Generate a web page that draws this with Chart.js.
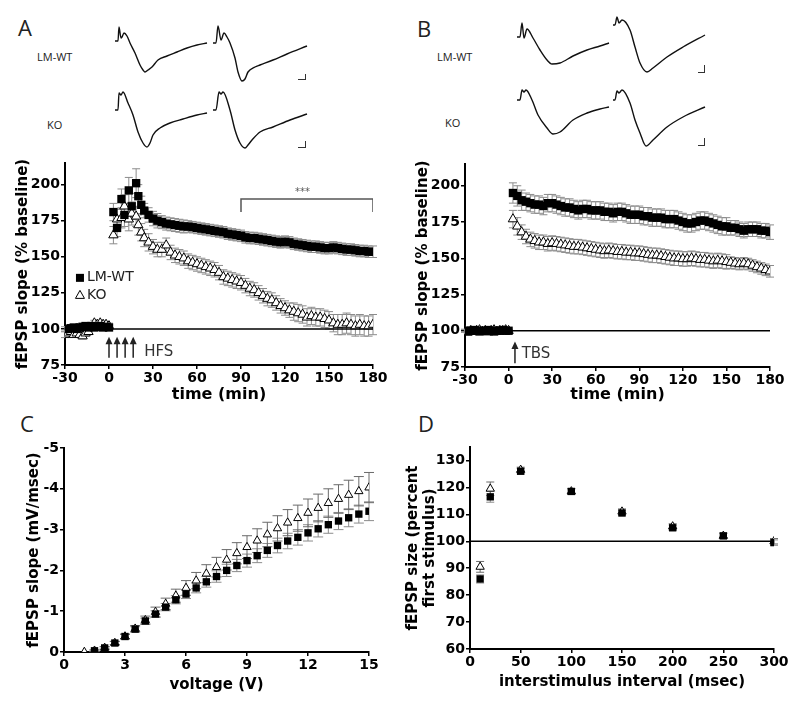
<!DOCTYPE html>
<html><head><meta charset="utf-8">
<script src="https://cdn.jsdelivr.net/npm/chart.js@4.4.1/dist/chart.umd.min.js"></script>
<style>
html,body{margin:0;padding:0;background:#fff}
#page{position:relative;width:800px;height:703px;overflow:hidden;background:#fff}
canvas{position:absolute}
.lbl{position:absolute;font-family:'Open Sans','DejaVu Sans',sans-serif;color:#222;white-space:nowrap;line-height:1}
.sb{position:absolute;border-right:1px solid #333;border-bottom:1px solid #333;box-sizing:border-box}
</style></head><body><div id="page">
<div class="lbl" style="left:18px;top:16px;font-size:22px">A</div>
<div class="lbl" style="left:417px;top:17px;font-size:22px">B</div>
<div class="lbl" style="left:20px;top:412px;font-size:22px">C</div>
<div class="lbl" style="left:418px;top:412px;font-size:22px">D</div>
<div class="lbl" style="left:37px;top:51px;font-size:11px">LM-WT</div>
<div class="lbl" style="left:47px;top:119px;font-size:11px">KO</div>
<div class="lbl" style="left:437px;top:51px;font-size:11px">LM-WT</div>
<div class="lbl" style="left:445px;top:117px;font-size:11px">KO</div>
<div class="sb" style="left:298px;top:74px;width:8px;height:6px"></div>
<div class="sb" style="left:298px;top:141px;width:8px;height:7px"></div>
<div class="sb" style="left:698px;top:65px;width:7px;height:8px"></div>
<div class="sb" style="left:698px;top:138px;width:7px;height:8px"></div>
</div>
<script>
// ---------------- DATA ----------------
// Panel A (HFS) : time (min)
const timeA = [-30,-28,-26,-24,-22,-20,-18,-16,-14,-12,-10,-8,-6,-4,-2,0,
  3,5.5,8.5,10.5,13.5,15.5,18.5,20,22,
  24,27,30,33,36,39,42,45,48,51,54,57,60,63,66,69,72,75,78,81,84,87,90,93,96,99,102,105,108,111,114,117,120,123,126,129,132,135,138,141,144,147,150,153,156,159,162,165,168,171,174,177,180];
const wtA = [100,100,100.5,101,100,101,101.5,102,101,102,101,101.5,102,101,101.5,101,
  181,170,190,179,196,185,201,192,186,
  182,179,176.5,175,174,173,172.5,172,171.5,171,171,170.5,170,169.5,169,168.5,168,167.5,167,166,165.5,165,164.5,163.5,163,163,162.5,162,161.5,161,160.5,160,160.5,160,159,158.5,158,157.5,157,157,156.5,156,156,156.5,156,155.5,155,155,154.5,154,154,153.5,153.5];
const wtA_sem = [1.5,1.5,1.5,1.5,1.5,1.5,1.5,1.5,1.5,1.5,1.5,1.5,1.5,1.5,1.5,1.5,
  6,6,7,8,9,9,10,8,6,
  5,5,5,5,4.5,4.5,4.5,4.5,4.5,4.5,4,4,4,4,4,4,4,4,4,4,4,4,4,4,4,4,4,4,4,4,4,4,4,4,4,4,4,4,4,4,4,4,4,4,4,4,4,4,4,4,4,4,4];
const koA = [96,97,98,96,97,96,95,97,98,101,104,103,104,103,103,102,
  165,176,177,185,176,180,178,172,167,
  163,160,157,155,155,158,153,151,150,149,147,146,145,144,143,142,141,139,136,135,134,133,132,130,128,127,125,123,121,120,118,116,114.5,113,112,111,110,108,109,108,108,107,106,104,103,103,104,103,102,103,102,102,103];
const koA_sem = [2,2,2,2,2,2,2,2,2,2,2,2,2,2,2,2,
  6,7,7,8,8,8,7,7,6,
  6,6,5,5,5,5,5,5,5,5,5,5,5,5,5,5,5,5,5,5,5,5,5,5,5,5,5,5,5,5,5,5,5,5,6,6,6,6,6,6,6,6,6,6,7,7,7,7,7,7,7,7,7];
const hfsTimes = [0,5.5,11,16.5];

// Panel B (TBS)
const timeB = [-30,-28,-26,-24,-22,-20,-18,-16,-14,-12,-10,-8,-6,-4,-2,0,
  3,6,9,12,15,18,21,24,27,30,33,36,39,42,45,48,51,54,57,60,63,66,69,72,75,78,81,84,87,90,93,96,99,102,105,108,111,114,117,120,123,126,129,132,135,138,141,144,147,150,153,156,159,162,165,168,171,174,177,180];
const wtB = [100,99.5,100,100.5,100,99.5,100,100,100.5,100,99.5,100,100,100.5,100,100,
  195,193,190,189,188,187,187,186,188,188,
  187,186,185,185,184,183,184,184,183,183,
  183,182,182,181,182,182,181,180,180,180,
  179,179,178,178,178,177,177,177,176,175,
  174,174,175,176,176,175,174,173,172,172,
  171,171,170,169,170,170,170,169,169,168];
const wtB_sem = [1,1,1,1,1,1,1,1,1,1,1,1,1,1,1,1,
  7,7,7,6,6,6,6,6,6,6, 6,6,6,6,6,6,6,6,6,6, 6,6,6,6,6,6,6,6,6,6,
  6,6,6,6,6,6,6,6,6,6, 6,6,6,6,6,6,6,6,6,6, 5,5,5,5,5,5,5,5,5,5];
const koB = [100,99,100,99.5,100,100.5,99.5,100,99,100,100.5,99.5,100,100,100.5,100,
  177,172,168,165,163,162,161,161,160,160.5,
  160,159.5,159,158.5,158,158,157.5,157,156.5,156,
  155.5,155,155.5,155,154.5,154.5,154,154,153.5,153.5,
  153,152.5,152,152,151.5,151,150.5,150,150,149.5,
  149.5,150,149.5,149,149,148.5,148,148.5,148,147.5,
  147,146.5,146,146.5,146,145,144,143,142,141];
const koB_sem = [1,1,1,1,1,1,1,1,1,1,1,1,1,1,1,1,
  6,6,5,5,5,5,5,5,5,5, 5,5,5,5,5,5,5,5,5,5, 5,5,5,5,5,5,5,5,5,5,
  5,5,5,5,5,5,5,5,5,5, 5,5,5,5,5,5,5,5,5,5, 4,4,4,4,4,4,4,4,4,4];
const tbsTimes = [4.4];

// Panel C (input-output)
const voltWT = [1.5,2,2.5,3,3.5,4,4.5,5,5.5,6,6.5,7,7.5,8,8.5,9,9.5,10,10.5,11,11.5,12,12.5,13,13.5,14,14.5,15];
const slopeWT = [-0.03,-0.1,-0.22,-0.38,-0.56,-0.76,-0.93,-1.1,-1.28,-1.42,-1.57,-1.72,-1.85,-2.0,-2.12,-2.24,-2.36,-2.49,-2.61,-2.72,-2.81,-2.92,-3.02,-3.12,-3.21,-3.29,-3.38,-3.45];
const slopeWT_sem = [0.02,0.03,0.04,0.05,0.06,0.07,0.08,0.09,0.1,0.11,0.12,0.13,0.14,0.15,0.15,0.16,0.17,0.17,0.18,0.19,0.19,0.2,0.2,0.21,0.21,0.22,0.22,0.23];
const voltKO = [1,1.5,2,2.5,3,3.5,4,4.5,5,5.5,6,6.5,7,7.5,8,8.5,9,9.5,10,10.5,11,11.5,12,12.5,13,13.5,14,14.5,15];
const slopeKO = [0,-0.03,-0.1,-0.22,-0.38,-0.57,-0.78,-0.98,-1.18,-1.38,-1.57,-1.75,-1.92,-2.08,-2.26,-2.42,-2.57,-2.73,-2.88,-3.03,-3.17,-3.28,-3.41,-3.53,-3.65,-3.75,-3.85,-3.94,-4.03];
const slopeKO_sem = [0,0.02,0.03,0.04,0.06,0.08,0.1,0.12,0.14,0.16,0.18,0.2,0.22,0.24,0.25,0.26,0.28,0.29,0.3,0.31,0.32,0.32,0.34,0.34,0.35,0.35,0.36,0.36,0.37];

// Panel D (paired-pulse)
const isi = [10,20,50,100,150,200,250,300];
const ppfWT = [86,116.5,126,118.5,110.5,105,102,99.5];
const ppfWT_sem = [1.5,2,1,1,1,1,1,1];
const ppfKO = [90.5,119.5,126.5,118.5,111,105.5,102,100];
const ppfKO_sem = [2,2.5,1,1,1,1,1,1];

// Reference lines / bracket (data units)
const baseline100A = [[-30,100],[180,100]];
const baseline100D = [[0,100],[300,100]];
const sigBracket = [[90,181],[90,190],[180,190],[180,181]];

// Example traces: [sample, amplitude (a.u.)]
const trA_WT_pre  = [[0,0],[3,0],[4,14],[6,3],[7,4],[9,8],[12,5],[15,-2],[20,-12],[25,-24],[28,-29],[30,-31],[33,-29],[37,-26],[43,-19],[52,-15],[62,-11],[72,-7],[82,-4],[92,-2]];
const trA_WT_post = [[0,0],[3,0],[5,17],[8,3],[11,10],[14,6],[17,0],[22,-15],[25,-29],[29,-38],[32,-36],[35,-29],[42,-24],[47,-22],[60,-17],[74,-11],[94,-3]];
const trA_KO_pre  = [[0,0],[3,0],[4,17],[6,15],[8,18],[13,7],[18,-5],[23,-22],[28,-33],[32,-37],[35,-33],[38,-25],[45,-18],[55,-13],[68,-9],[82,-5],[92,-3]];
const trA_KO_post = [[0,0],[3,0],[6,18],[8,16],[10,18],[17,0],[22,-20],[27,-33],[32,-38],[35,-35],[39,-30],[47,-22],[60,-17],[77,-10],[94,-4]];
const trB_WT_pre  = [[0,0],[3,0],[5,14],[7,-1],[10,8],[16,-1],[23,-13],[30,-23],[35,-27],[43,-26],[56,-19],[70,-13],[83,-9],[92,-6]];
const trB_WT_post = [[0,0],[2,0],[4,8],[6,2],[9,5],[17,-5],[22,-22],[27,-38],[34,-47],[40,-43],[54,-32],[70,-22],[92,-10]];
const trB_KO_pre  = [[0,0],[3,0],[5,10],[7,8],[9,10],[15,0],[21,-15],[30,-28],[36,-34],[43,-32],[56,-20],[70,-13],[83,-9],[92,-7]];
const trB_KO_post = [[0,0],[2,0],[4,9],[6,7],[9,10],[17,-3],[22,-20],[27,-33],[33,-46],[40,-40],[54,-27],[70,-17],[92,-7]];

// ---------------- HELPERS ----------------
const page = document.getElementById('page');
function addCanvas(left, top, w, h){
  const c = document.createElement('canvas');
  c.width = w; c.height = h;
  c.style.left = left+'px'; c.style.top = top+'px';
  c.style.width = w+'px'; c.style.height = h+'px';
  page.appendChild(c);
  return c;
}
const FAM = "'DejaVu Sans', Verdana, sans-serif";
const zip = (xs, ys) => xs.map((x,i)=>({x, y: ys[i]}));
const pairs = p => p.map(([x,y])=>({x,y}));

const errorBars = {
  id:'errorBars',
  beforeDatasetsDraw(chart){
    const ctx = chart.ctx, xs = chart.scales.x, ys = chart.scales.y;
    chart.data.datasets.forEach(ds=>{
      if(!ds.errors) return;
      ctx.save();
      ctx.strokeStyle = ds.errorColor || '#888';
      ctx.lineWidth = 1;
      const cw = ds.capHalf || 4;
      ds.data.forEach((p,j)=>{
        const e = ds.errors[j]; if(!e) return;
        const px = xs.getPixelForValue(p.x);
        const y1 = ys.getPixelForValue(p.y - e), y2 = ys.getPixelForValue(p.y + e);
        ctx.beginPath();
        ctx.moveTo(px, y1); ctx.lineTo(px, y2);
        ctx.moveTo(px-cw, y1); ctx.lineTo(px+cw, y1);
        ctx.moveTo(px-cw, y2); ctx.lineTo(px+cw, y2);
        ctx.stroke();
      });
      ctx.restore();
    });
  }
};
Chart.register(errorBars);

function xScale(min,max,step,title,height,padBottom,titleSize){
  return {type:'linear', position:'bottom', min, max,
    ticks:{stepSize:step, color:'#000', font:{family:FAM, weight:'bold', size:14}, padding:1, includeBounds:false, maxRotation:0, autoSkip:false},
    grid:{display:true, drawOnChartArea:false, drawTicks:true, tickLength:4, color:'#000', lineWidth:1.5},
    border:{display:true, color:'#000', width:2},
    title:{display:true, text:title, color:'#000', font:{family:FAM, weight:'bold', size:titleSize||15, lineHeight:1.2}, padding:{top:0,bottom:padBottom}},
    afterFit(s){ s.height = height; }
  };
}
function yScale(min,max,step,title,width,padTop,reverse){
  return {type:'linear', position:'left', min, max, reverse: !!reverse,
    ticks:{stepSize:step, color:'#000', font:{family:FAM, weight:'bold', size:14}, padding:1, includeBounds:false, autoSkip:false},
    grid:{display:true, drawOnChartArea:false, drawTicks:true, tickLength:4, color:'#000', lineWidth:1.5},
    border:{display:true, color:'#000', width:2},
    title:{display:true, text:title, color:'#000', font:{family:FAM, weight:'bold', size:15, lineHeight:1.15}, padding:{top:padTop,bottom:0}},
    afterFit(s){ s.width = width; }
  };
}
function baseOpts(scales, padding){
  return {responsive:false, animation:false, devicePixelRatio:1, events:[],
    layout:{padding},
    plugins:{legend:{display:false}, tooltip:{enabled:false}},
    scales};
}
function wtSet(data, errs, r, capHalf, errColor){
  return {label:'LM-WT', data, errors:errs, pointStyle:'rect', pointRadius:r, backgroundColor:'#000', borderColor:'#000', borderWidth:0, showLine:false, order:1, errorColor:errColor||'#8c8c8c', capHalf};
}
function koSet(data, errs, r, capHalf, errColor){
  return {label:'KO', data, errors:errs, pointStyle:'triangle', pointRadius:r, backgroundColor:'#fff', borderColor:'#000', borderWidth:1, showLine:false, order:2, errorColor:errColor||'#8c8c8c', capHalf};
}
function lineSet(data, color, w){
  return {data, showLine:true, borderColor:color, borderWidth:w, pointRadius:0, order:5, fill:false};
}
function drawArrow(ctx, x, yBottom, yTip){
  ctx.save();
  ctx.strokeStyle = '#222'; ctx.fillStyle = '#222'; ctx.lineWidth = 1.5;
  ctx.beginPath(); ctx.moveTo(x, yBottom); ctx.lineTo(x, yTip+5); ctx.stroke();
  ctx.beginPath(); ctx.moveTo(x, yTip); ctx.lineTo(x-3.5, yTip+7.5); ctx.lineTo(x+3.5, yTip+7.5); ctx.closePath(); ctx.fill();
  ctx.restore();
}

// ---------------- PANEL A ----------------
new Chart(addCanvas(0,150,400,260), {
  type:'scatter',
  data:{datasets:[
    wtSet(zip(timeA,wtA), wtA_sem, 5.9, 4),
    koSet(zip(timeA,koA), koA_sem, 5.4, 4),
    lineSet(pairs(baseline100A), '#000', 1.5),
    lineSet(pairs(sigBracket), '#555', 1.5)
  ]},
  options: baseOpts({
    x: xScale(-30,180,30,'time (min)',45,6,16),
    y: yScale(75,215,25,'fEPSP slope (% baseline)',65,14)
  }, {top:13, right:27, left:0, bottom:0}),
  plugins:[{id:'annA', afterDatasetsDraw(chart){
    const ctx = chart.ctx, xs = chart.scales.x, ys = chart.scales.y;
    hfsTimes.forEach(t => drawArrow(ctx, xs.getPixelForValue(t), ys.getPixelForValue(80), ys.getPixelForValue(94.5)));
    ctx.save();
    ctx.fillStyle = '#333'; ctx.font = "15px "+FAM; ctx.textBaseline = 'middle'; ctx.textAlign = 'left';
    ctx.fillText('HFS', xs.getPixelForValue(24), ys.getPixelForValue(84));
    ctx.fillStyle = '#555'; ctx.font = "10px "+FAM; ctx.textAlign = 'center';
    ctx.fillText('***', xs.getPixelForValue(132), ys.getPixelForValue(194.5));
    // legend
    const lx = xs.getPixelForValue(-19.8), ly1 = ys.getPixelForValue(135.4), ly2 = ys.getPixelForValue(123.6);
    ctx.fillStyle = '#000'; ctx.fillRect(lx-4, ly1-4, 8, 8);
    ctx.strokeStyle = '#000'; ctx.lineWidth = 1;
    ctx.beginPath(); ctx.moveTo(lx, ly2-4.5); ctx.lineTo(lx+4.5, ly2+3.5); ctx.lineTo(lx-4.5, ly2+3.5); ctx.closePath(); ctx.stroke();
    ctx.fillStyle = '#222'; ctx.font = "14px "+FAM; ctx.textAlign = 'left';
    ctx.fillText('LM-WT', lx+7, ly1);
    ctx.fillText('KO', lx+7, ly2);
    ctx.restore();
  }}]
});

// ---------------- PANEL B ----------------
new Chart(addCanvas(400,150,400,260), {
  type:'scatter',
  data:{datasets:[
    wtSet(zip(timeB,wtB), wtB_sem, 5.9, 4),
    koSet(zip(timeB,koB), koB_sem, 5.4, 4),
    lineSet(pairs(baseline100A), '#000', 1.5)
  ]},
  options: baseOpts({
    x: xScale(-30,180,30,'time (min)',43,6,16),
    y: yScale(75,215,25,'fEPSP slope (% baseline)',65,14)
  }, {top:14, right:30, left:0, bottom:0}),
  plugins:[{id:'annB', afterDatasetsDraw(chart){
    const ctx = chart.ctx, xs = chart.scales.x, ys = chart.scales.y;
    tbsTimes.forEach(t => drawArrow(ctx, xs.getPixelForValue(t), ys.getPixelForValue(77.6), ys.getPixelForValue(92.6)));
    ctx.save();
    ctx.fillStyle = '#333'; ctx.font = "15px "+FAM; ctx.textBaseline = 'middle'; ctx.textAlign = 'left';
    ctx.fillText('TBS', xs.getPixelForValue(9), ys.getPixelForValue(84));
    ctx.restore();
  }}]
});

// ---------------- PANEL C ----------------
new Chart(addCanvas(0,430,400,273), {
  type:'scatter',
  data:{datasets:[
    wtSet(zip(voltWT,slopeWT), slopeWT_sem, 5.2, 5, '#8c8c8c'),
    koSet(zip(voltKO,slopeKO), slopeKO_sem, 4.8, 5, '#6a6a6a')
  ]},
  options: baseOpts({
    x: xScale(0,15,3,'voltage (V)',51,9),
    y: yScale(-5,0,1,'fEPSP slope (mV/msec)',64,25,true)
  }, {top:18, right:31, left:0, bottom:0})
});

// ---------------- PANEL D ----------------
new Chart(addCanvas(400,430,400,273), {
  type:'scatter',
  data:{datasets:[
    wtSet(zip(isi,ppfWT), ppfWT_sem, 5.2, 4, '#8c8c8c'),
    koSet(zip(isi,ppfKO), ppfKO_sem, 4.8, 4, '#6a6a6a'),
    lineSet(pairs(baseline100D), '#000', 1.5)
  ]},
  options: baseOpts({
    x: xScale(0,300,50,'interstimulus interval (msec)',54,12),
    y: yScale(60,135,10,['fEPSP size (percent','first stimulus)'],70,4.5)
  }, {top:17, right:26, left:0, bottom:0})
});

// ---------------- TRACES ----------------
function traceChart(left, top, trace){
  new Chart(addCanvas(left, top, 100, 70), {
    type:'scatter',
    data:{datasets:[{data:pairs(trace), showLine:true, borderColor:'#111', borderWidth:1.4, pointRadius:0, cubicInterpolationMode:'monotone', clip:false}]},
    options:{responsive:false, animation:false, devicePixelRatio:1, events:[],
      layout:{padding:0},
      plugins:{legend:{display:false}, tooltip:{enabled:false}},
      scales:{x:{type:'linear', display:false, min:0, max:100}, y:{type:'linear', display:false, min:-50, max:20}}}
  });
}
traceChart(115,21,trA_WT_pre);
traceChart(213,23,trA_WT_post);
traceChart(115,90,trA_KO_pre);
traceChart(213,90,trA_KO_post);
traceChart(517,17,trB_WT_pre);
traceChart(613,5,trB_WT_post);
traceChart(517,80,trB_KO_pre);
traceChart(613,80,trB_KO_post);
</script></body></html>
